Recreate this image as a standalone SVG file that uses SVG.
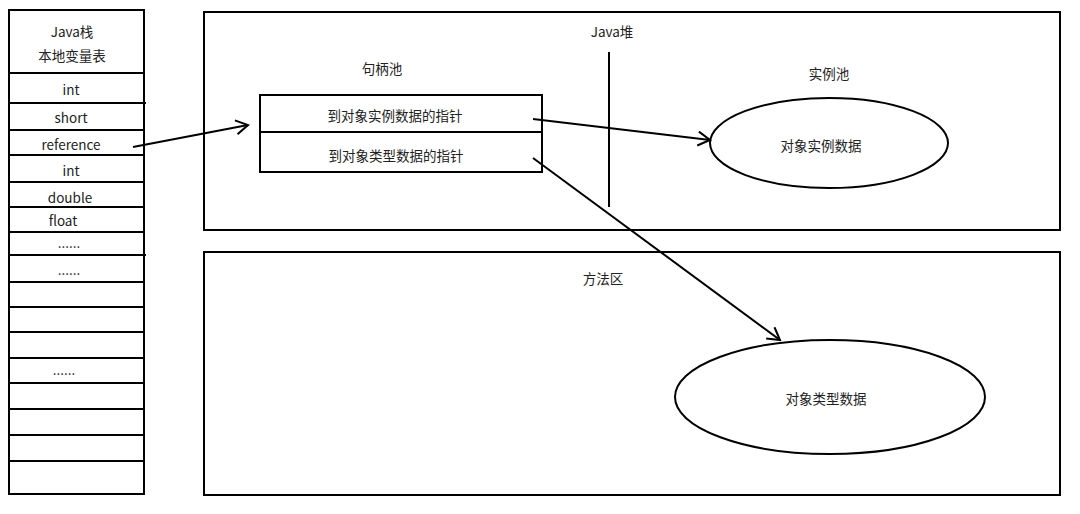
<svg xmlns="http://www.w3.org/2000/svg" width="1080" height="514" viewBox="0 0 1080 514">
<style>
.b{fill:none;stroke:#000;stroke-width:2}
.l{stroke:#000;stroke-width:2}
text{font-family:"Noto Sans CJK SC","Noto Sans",sans-serif;font-size:13.5px;fill:#222;text-anchor:middle;dominant-baseline:central}
.c{fill:none;stroke:#000;stroke-width:2}
</style>
<defs>
<marker id="a" markerWidth="16" markerHeight="16" refX="14" refY="8" orient="auto" markerUnits="userSpaceOnUse">
<path d="M2,1 L14,8 L2,15" fill="none" stroke="#000" stroke-width="2"/>
</marker>
</defs>
<rect width="1080" height="514" fill="#fff"/>
<g id="stack">
<rect class="b" x="9" y="10" width="135" height="484"/>
<g class="l">
<line x1="9" y1="73" x2="144" y2="73"/>
<line x1="9" y1="103" x2="146" y2="103"/>
<line x1="9" y1="130" x2="144" y2="130"/>
<line x1="9" y1="155" x2="144" y2="155"/>
<line x1="9" y1="182" x2="144" y2="182"/>
<line x1="9" y1="207" x2="144" y2="207"/>
<line x1="9" y1="232" x2="144" y2="232"/>
<line x1="9" y1="255" x2="146" y2="255"/>
<line x1="9" y1="282" x2="144" y2="282"/>
<line x1="9" y1="307" x2="144" y2="307"/>
<line x1="9" y1="332" x2="144" y2="332"/>
<line x1="9" y1="358" x2="144" y2="358"/>
<line x1="9" y1="383" x2="144" y2="383"/>
<line x1="9" y1="409" x2="144" y2="409"/>
<line x1="9" y1="435" x2="144" y2="435"/>
<line x1="9" y1="461" x2="144" y2="461"/>
</g>
<text x="72" y="31">Java栈</text>
<text x="72" y="55">本地变量表</text>
<text x="71" y="89">int</text>
<text x="71" y="117">short</text>
<text x="71" y="144">reference</text>
<text x="71" y="170">int</text>
<text x="70" y="197">double</text>
<text x="63" y="220">float</text>
<text x="69" y="242">......</text>
<text x="69" y="269">......</text>
<text x="64" y="369">......</text>
</g>
<g id="heap">
<rect class="b" x="204" y="12" width="856" height="218"/>
<text x="612" y="31">Java堆</text>
<line class="l" x1="609" y1="52" x2="609" y2="207"/>
</g>
<g id="handle-pool">
<text x="382" y="68">句柄池</text>
<rect class="b" x="260" y="95" width="282" height="77"/>
<line class="l" x1="260" y1="132" x2="542" y2="132"/>
<text x="395" y="115">到对象实例数据的指针</text>
<text x="396" y="155">到对象类型数据的指针</text>
</g>
<g id="instance-pool">
<text x="829" y="73">实例池</text>
<ellipse class="b" cx="829" cy="143" rx="119" ry="45"/>
<text x="821" y="145">对象实例数据</text>
</g>
<g id="method-area">
<rect class="b" x="204" y="252" width="856" height="243"/>
<text x="603" y="278">方法区</text>
<ellipse class="b" cx="830" cy="397" rx="155" ry="57"/>
<text x="826" y="398">对象类型数据</text>
</g>
<g id="connectors">
<line class="c" x1="133" y1="147" x2="248" y2="125" marker-end="url(#a)"/>
<line class="c" x1="533" y1="119" x2="710" y2="140" marker-end="url(#a)"/>
<line class="c" x1="533" y1="158" x2="780" y2="340" marker-end="url(#a)"/>
</g>
</svg>
